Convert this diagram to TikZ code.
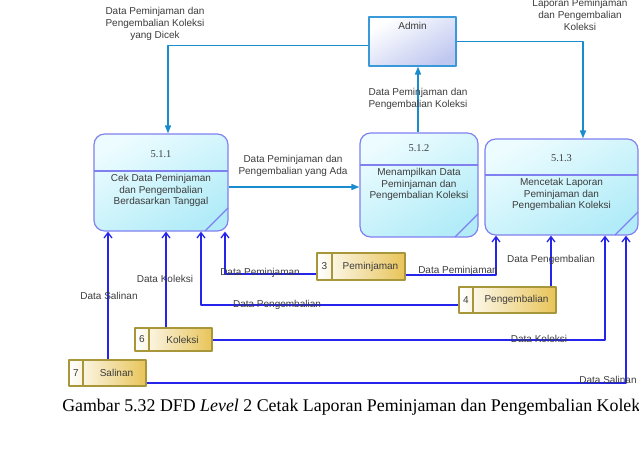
\documentclass[tikz,border=0pt]{standalone}
\usepackage{fontspec}
\setmainfont{Liberation Serif}
\setsansfont{Liberation Sans}
\usetikzlibrary{arrows.meta,fit,positioning}
\definecolor{flowblue}{RGB}{25,140,205}
\definecolor{storeblue}{RGB}{36,36,235}
\definecolor{procline}{RGB}{128,128,240}
\definecolor{procfillA}{RGB}{236,252,255}
\definecolor{procfillB}{RGB}{178,236,248}
\definecolor{adminline}{RGB}{58,154,217}
\definecolor{adminfillB}{RGB}{192,200,240}
\definecolor{storeline}{RGB}{168,150,58}
\definecolor{storegold}{RGB}{232,196,88}
\definecolor{labelgray}{RGB}{60,60,60}
\begin{document}
\begin{tikzpicture}[x=0.75pt,y=-0.75pt,font=\sffamily\fontsize{7.5}{8.7}\selectfont, line join=round,
	flow/.style={draw=flowblue, line width=1.1pt, -{Triangle[length=6pt,width=4.5pt]}},
	sflow/.style={draw=storeblue, line width=1pt, -{Straight Barb[length=4pt,width=6pt]}},
	process/.style={draw=procline, line width=0.9pt, rounded corners=8pt, inner sep=0pt,
		top color=procfillA, bottom color=procfillB, shading angle=30},
	store/.style={draw=storeline, line width=0.9pt, inner sep=0pt, left color=white, right color=storegold},
	lbl/.style={text=labelgray, align=center, inner sep=0pt}]
	\useasboundingbox (0,0) rectangle (639,463);
	% entitas
	\node[draw=adminline, line width=0.9pt, inner sep=0pt, top color=white, bottom color=adminfillB, shading angle=30,
		fit={(369,17) (456,66)}] (admin) {};
	\node[lbl] (admin-txt) at (412.5,26) {Admin};
	% proses
	\foreach \n/\xa/\ya/\xb/\yb/\yd/\yn/\num/\txt in {
		p511/94/134/228/231/171/154/5.1.1/{Cek Data Peminjaman\\dan Pengembalian\\Berdasarkan Tanggal},
		p512/360/133/478/237/165/148/5.1.2/{Menampilkan Data\\Peminjaman dan\\Pengembalian Koleksi},
		p513/485/139/638/235/175/158/5.1.3/{Mencetak Laporan\\Peminjaman dan\\Pengembalian Koleksi}}{
		\node[process, fit={(\xa,\ya) (\xb,\yb)}] (\n) {};
		\draw[procline, line width=0.9pt] (\xa,\yd) -- (\xb,\yd);
		\draw[procline, line width=0.9pt] (\xb-23,\yb) -- (\xb,\yb-23);
		\node[lbl, font=\rmfamily\fontsize{7.8}{9}\selectfont] (\n-num) at ({(\xa+\xb)/2},\yn) {\num};
		\node[lbl, anchor=north] (\n-txt) at ({(\xa+\xb)/2},\yd+3) {\txt};
	}
	% data store
	\foreach \n/\xa/\ya/\xb/\yb/\xd/\num/\txt in {
		s3/317/253/405/280/332/3/Peminjaman,
		s4/459/287/556/313/473/4/Pengembalian,
		s6/135/328/212/351/149/6/Koleksi,
		s7/69/360/146/386/83/7/Salinan}{
		\node[store, fit={(\xa,\ya) (\xb,\yb)}] (\n) {};
		\draw[storeline, line width=0.9pt] (\xd,\ya) -- (\xd,\yb);
		\node[lbl] (\n-num) at ({(\xa+\xd)/2},{(\ya+\yb)/2}) {\num};
		\node[lbl] (\n-txt) at ({(\xd+\xb)/2+2},{(\ya+\yb)/2}) {\txt};
	}
	% alur admin
	\draw[flow] ([shift={(0,4)}]admin.west) -| (p511.north -| 168,0);
	\draw[flow] (p512.north -| 418,0) -- (admin.south -| 418,0);
	\draw[flow] (admin.east) -| (p513.north -| 583,0);
	\draw[flow] (p511.east |- 0,187) -- (p512.west |- 0,187);
	\node[lbl] (l-cek) at (155,24) {Data Peminjaman dan\\Pengembalian Koleksi\\yang Dicek};
	\node[lbl] (l-tampil) at (418,99) {Data Peminjaman dan\\Pengembalian Koleksi};
	\node[lbl] (l-lap) at (580,15) {Laporan Peminjaman\\dan Pengembalian\\Koleksi};
	\node[lbl] (l-ada) at (293,166) {Data Peminjaman dan\\Pengembalian yang Ada};
	% alur data store
	\draw[sflow] (s7.north -| 108,0) -- (p511.south -| 108,0);
	\draw[sflow] (s6.north -| 166,0) -- (p511.south -| 166,0);
	\draw[sflow] (s4.west |- 0,305) -| (p511.south -| 201,0);
	\draw[sflow] (s3.west |- 0,274) -| (p511.south -| 225,0);
	\draw[sflow] (s3.east |- 0,275) -| (p513.south -| 496,0);
	\draw[sflow] (s4.north -| 551,0) -- (p513.south -| 551,0);
	\draw[sflow] (s6.east |- 0,340) -| (p513.south -| 605,0);
	\draw[sflow] (s7.east |- 0,383) -| (p513.south -| 626,0);
	\node[lbl] (l-sal1) at (109,296) {Data Salinan};
	\node[lbl] (l-kol1) at (165,279) {Data Koleksi};
	\node[lbl] (l-pem1) at (260,273) {Data Peminjaman};
	\node[lbl] (l-peng1) at (277,305) {Data Pengembalian};
	\node[lbl] (l-pem2) at (458,271) {Data Peminjaman};
	\node[lbl] (l-peng2) at (551,260) {Data Pengembalian};
	\node[lbl] (l-kol2) at (539,339) {Data Koleksi};
	\node[lbl] (l-sal2) at (608,380) {Data Salinan};
	% keterangan
	\node[anchor=base west, inner sep=0pt, font=\rmfamily\fontsize{13.4}{16}\selectfont] (caption) at (62,411)
		{Gambar 5.32 DFD \textit{Level} 2 Cetak Laporan Peminjaman dan Pengembalian Koleksi};
\end{tikzpicture}
\end{document}
